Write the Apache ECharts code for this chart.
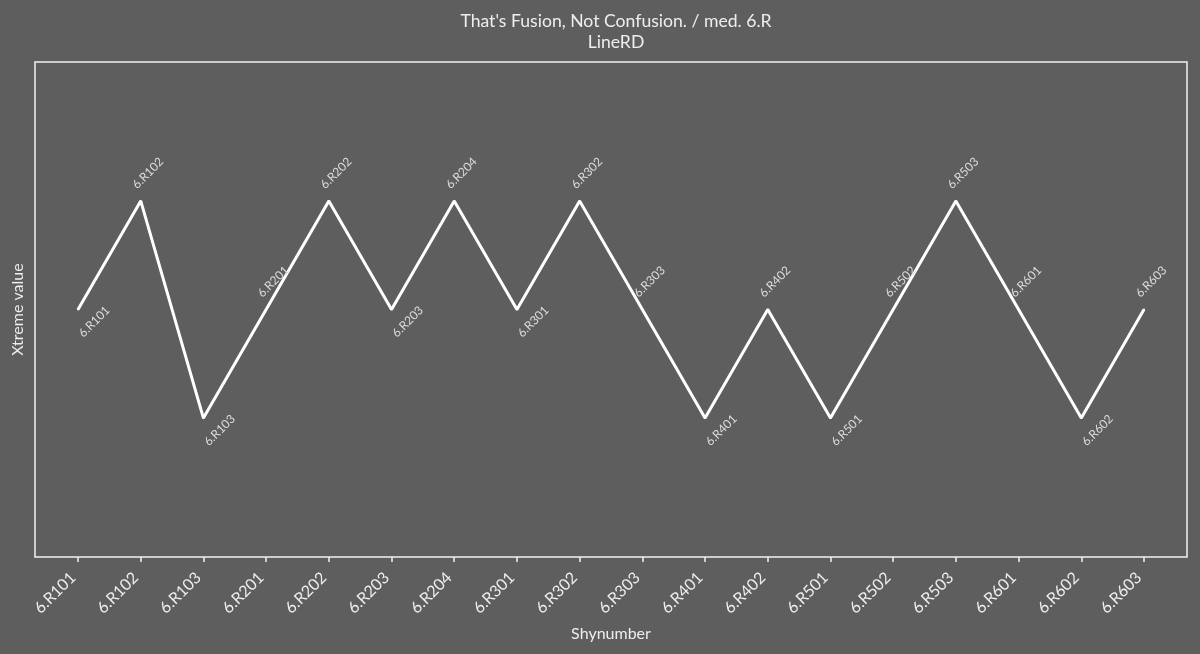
<!DOCTYPE html>
<html>
<head>
<meta charset="utf-8">
<script src="https://cdn.jsdelivr.net/npm/echarts@6/dist/echarts.min.js"></script>
<style>
  html, body { margin: 0; padding: 0; background: #5e5e5e; }
  #chart { width: 1200px; height: 654px; }
</style>
</head>
<body>
<div id="chart"></div>
<script>
const categories = ['6.R101','6.R102','6.R103','6.R201','6.R202','6.R203','6.R204','6.R301','6.R302','6.R303','6.R401','6.R402','6.R501','6.R502','6.R503','6.R601','6.R602','6.R603'];
const values = [2, 3, 1, 2, 3, 2, 3, 2, 3, 2, 1, 2, 1, 2, 3, 2, 1, 2];
const titleText = "That's Fusion, Not Confusion. / med. 6.R";
const subtitleText = 'LineRD';
const xName = 'Shynumber';
const yName = 'Xtreme value';

const FONT = 'Lato';
const tickIdx = categories.map((c, i) => i);

function isLocalMin(i) {
  const v = values[i];
  const prev = i > 0 ? values[i - 1] : Infinity;
  const next = i < values.length - 1 ? values[i + 1] : Infinity;
  return v < prev && v < next;
}

const seriesData = values.map((v, i) => {
  const below = isLocalMin(i);
  return {
    value: [i, v],
    name: categories[i],
    label: {
      position: below ? [8, 31] : [-1, -9]
    }
  };
});

const chart = echarts.init(document.getElementById('chart'));
chart.setOption({
  backgroundColor: '#5e5e5e',
  animation: false,
  textStyle: { fontFamily: FONT },
  title: {
    text: titleText,
    subtext: subtitleText,
    left: 611,
    top: 7,
    textAlign: 'center',
    itemGap: 3,
    textStyle: { color: '#eeeeee', fontSize: 17.6, fontWeight: 'normal', fontFamily: FONT },
    subtextStyle: { color: '#eeeeee', fontSize: 17.6, fontFamily: FONT }
  },
  grid: {
    left: 35, right: 13, top: 62, bottom: 97,
    show: true,
    borderColor: '#f2f2f2',
    borderWidth: 1.5,
    backgroundColor: 'transparent'
  },
  xAxis: {
    type: 'value',
    min: -0.686,
    max: 17.686,
    name: xName,
    nameLocation: 'middle',
    nameGap: 69,
    nameTextStyle: { color: '#eeeeee', fontSize: 16, fontFamily: FONT },
    axisLine: { show: false, onZero: false },
    splitLine: { show: false },
    axisTick: {
      show: true, inside: false, length: 5,
      customValues: tickIdx,
      lineStyle: { color: '#f2f2f2', width: 1.5 }
    },
    axisLabel: {
      customValues: tickIdx,
      rotate: 45,
      margin: 13,
      padding: [0, 7, 0, 0],
      fontSize: 16,
      color: '#eeeeee',
      fontFamily: FONT,
      formatter: (v) => categories[Math.round(v)]
    }
  },
  yAxis: {
    type: 'value',
    min: -0.28,
    max: 4.28,
    name: yName,
    nameLocation: 'middle',
    nameGap: 9,
    nameTextStyle: { color: '#eeeeee', fontSize: 16, fontFamily: FONT },
    axisLine: { show: false, onZero: false },
    axisTick: { show: false },
    axisLabel: { show: false },
    splitLine: { show: false }
  },
  series: [{
    type: 'line',
    data: seriesData,
    symbol: 'circle',
    symbolSize: 2,
    showSymbol: true,
    itemStyle: { color: '#ffffff' },
    lineStyle: { color: '#ffffff', width: 3 },
    label: {
      show: true,
      formatter: (p) => p.name,
      rotate: 45,
      align: 'left',
      verticalAlign: 'bottom',
      fontSize: 12,
      color: '#dddddd',
      fontFamily: FONT
    },
    emphasis: { disabled: true }
  }]
});
</script>
</body>
</html>
